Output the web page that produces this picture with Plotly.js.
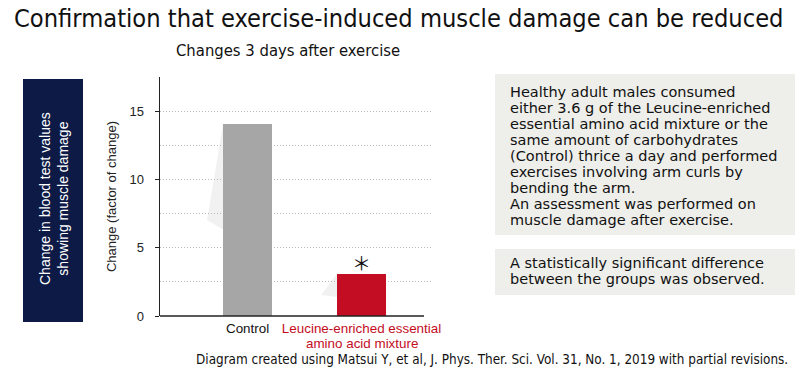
<!DOCTYPE html>
<html>
<head>
<meta charset="utf-8">
<script src="https://cdn.plot.ly/plotly-3.0.1.min.js"></script>
<style>html,body{margin:0;padding:0;background:#fff;}#chart{width:800px;height:370px;}</style>
</head>
<body>
<div id="chart"></div>
<script>
// ---- data ----
var categories = ["Control", "Leucine-enriched essential amino acid mixture"];
var tickLines1 = ["Control", "Leucine-enriched essential"];
var tickLines2 = ["", "amino acid mixture"];
var labelColors = ["#111111", "#c30d23"];
var values = [14.1, 3.1];
var barColors = ["#a6a6a6", "#c30d23"];
var yTicks = [0, 5, 10, 15];
var titleText = "Confirmation that exercise-induced muscle damage can be reduced";
var subtitleText = "Changes 3 days after exercise";
var sideLabel = ["Change in blood test values", "showing muscle damage"];
var yTitle = "Change (factor of change)";
var noteLines = [
  "Healthy adult males consumed",
  "either 3.6 g of the Leucine-enriched",
  "essential amino acid mixture or the",
  "same amount of carbohydrates",
  "(Control) thrice a day and performed",
  "exercises involving arm curls by",
  "bending the arm.",
  "An assessment was performed on",
  "muscle damage after exercise."
];
var resultLines = [
  "A statistically significant difference",
  "between the groups was observed."
];
var sourceText = "Diagram created using Matsui Y, et al, J. Phys. Ther. Sci. Vol. 31, No. 1, 2019 with partial revisions.";
var sigMark = "＊";

// ---- layout helpers ----
var L = 160, R = 433, T = 77, B = 316;
function px(x) { return (x - L) / (R - L); }
function py(y) { return (B - y) / (B - T); }
var barWidth = 0.43;
var condensed = "DejaVu Sans Condensed, Liberation Sans Narrow, Arial Narrow, sans-serif";
var sans = "Liberation Sans, Arial, sans-serif";
var wide = "DejaVu Sans, Verdana, sans-serif";

var annotations = [];
annotations.push({xref:'paper', yref:'paper', x:px(12), y:py(19), xanchor:'left', yanchor:'middle',
  text:titleText, showarrow:false, font:{family:condensed, size:25.2, color:'#111'}});
annotations.push({xref:'paper', yref:'paper', x:px(288), y:py(50), xanchor:'center', yanchor:'middle',
  text:subtitleText, showarrow:false, font:{family:condensed, size:16.5, color:'#111'}});
annotations.push({xref:'paper', yref:'paper', x:px(790), y:py(359), xanchor:'right', yanchor:'middle',
  text:sourceText, showarrow:false, font:{family:condensed, size:13.4, color:'#111'}});
annotations.push({xref:'paper', yref:'paper', x:px(54), y:py(199), xanchor:'center', yanchor:'middle',
  text:sideLabel.join('<br>'), textangle:-90, showarrow:false, font:{family:sans, size:14, color:'#fff'}});
noteLines.forEach(function(t, i) {
  annotations.push({xref:'paper', yref:'paper', x:px(508), y:py(92 + 16 * i), xanchor:'left', yanchor:'middle',
    text:t, showarrow:false, font:{family:wide, size:14.5, color:'#111'}});
});
resultLines.forEach(function(t, i) {
  annotations.push({xref:'paper', yref:'paper', x:px(508), y:py(263 + 15.5 * i), xanchor:'left', yanchor:'middle',
    text:t, showarrow:false, font:{family:wide, size:14.5, color:'#111'}});
});
tickLines2.forEach(function(t, i) {
  if (!t) return;
  annotations.push({xref:'x', yref:'paper', x:i, y:py(343), xanchor:'center', yanchor:'middle',
    text:t, showarrow:false, font:{family:sans, size:13.4, color:labelColors[i]}});
});
annotations.push({xref:'x', yref:'y', x:1, y:values[1], yshift:11, xanchor:'center', yanchor:'middle',
  text:sigMark, showarrow:false, font:{family:"Noto Sans CJK JP, sans-serif", size:19, color:'#111'}});

var shapes = [
  {type:'rect', xref:'paper', yref:'paper', x0:px(23), x1:px(83), y0:py(79), y1:py(322),
   fillcolor:'#0d1a45', line:{width:0}, layer:'below'},
  {type:'rect', xref:'paper', yref:'paper', x0:px(495), x1:px(795), y0:py(74), y1:py(235),
   fillcolor:'#eeeeea', line:{width:0}, layer:'below'},
  {type:'rect', xref:'paper', yref:'paper', x0:px(495), x1:px(795), y0:py(249), y1:py(295),
   fillcolor:'#eeeeea', line:{width:0}, layer:'below'},
  {type:'line', xref:'paper', yref:'paper', x0:0, x1:px(424), y0:0, y1:0, line:{color:'#222', width:1.5}}
];
// faint shadow wedges to the left of bars
values.forEach(function(v, i) {
  var x0 = i - barWidth / 2;
  shapes.push({type:'path', xref:'x', yref:'y', layer:'below',
    path:'M ' + x0 + ' ' + v + ' L ' + (x0 - 0.14) + ' ' + (v * 0.5) + ' L ' + x0 + ' ' + (v * 0.45) + ' Z',
    fillcolor:'rgba(225,225,225,0.45)', line:{width:0}});
});

var tickText = tickLines1.map(function(t, i) {
  return "<span style='color:" + labelColors[i] + "'>" + t + "</span>";
});

var trace = {
  type:'bar', x:[0, 1], y:values, width:barWidth,
  marker:{color:barColors, line:{width:0}}, hoverinfo:'skip'
};

var layout = {
  width:800, height:370,
  margin:{l:L, r:800 - R, t:T, b:370 - B},
  paper_bgcolor:'#fff', plot_bgcolor:'rgba(0,0,0,0)',
  showlegend:false,
  bargap:0,
  xaxis:{range:[-0.768, 1.627], tickvals:[0, 1], ticktext:tickText, showgrid:false, zeroline:false,
    showline:false, ticks:'', ticklabelstandoff:3, tickfont:{family:sans, size:13.4, color:'#111'}, fixedrange:true},
  yaxis:{range:[0, 17.55], tickvals:yTicks, showgrid:false, zeroline:false, showline:true, linecolor:'#222', linewidth:1.5,
    ticks:'outside', ticklen:4, tickcolor:'#222', ticklabelstandoff:8,
    tickfont:{family:sans, size:13, color:'#222'},
    minor:{dtick:2.5, tick0:0, showgrid:true, gridcolor:'#b8b8b8', griddash:'1px,2px', gridwidth:1, ticks:''},
    title:{text:yTitle, font:{family:sans, size:13, color:'#222'}, standoff:10}, fixedrange:true},
  annotations:annotations,
  shapes:shapes
};

Plotly.newPlot('chart', [trace], layout, {displayModeBar:false, staticPlot:true});
</script>
</body>
</html>
